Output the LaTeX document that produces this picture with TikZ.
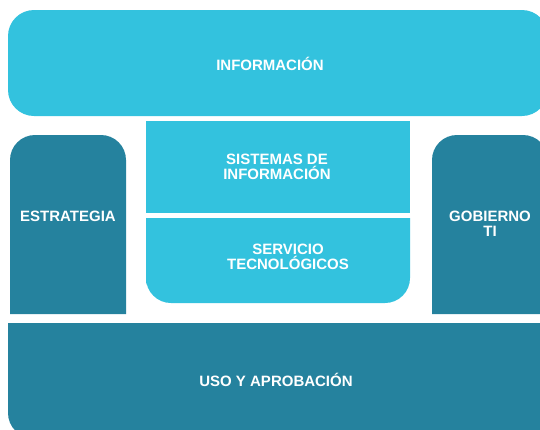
\documentclass[tikz,border=0pt]{standalone}
\usepackage{fontspec}
\setmainfont{Liberation Sans}
\usepackage{tikz}
\usepackage{xcolor}

\definecolor{celeste}{HTML}{33C2DE}
\definecolor{petroleo}{HTML}{25829E}

\tikzset{
    etiqueta/.style={text=white, align=center, anchor=base, inner sep=0pt,
        font=\bfseries\fontsize{15}{15}\selectfont}
}

\begin{document}
\begin{tikzpicture}[x=1pt,y=-1pt]
        \clip (0,0) rectangle (540,429);
        % capa superior
        \fill [celeste, rounded corners=26] (8,10) rectangle (548,116);
        % bloque central
        \fill [celeste] (146,121) rectangle (410,213);
        \fill [celeste] (146,218) -- (410,218) -- (410,260) [rounded corners=25] -- (410,303) -- (146,303) -- (146,260) [sharp corners] -- cycle;
        % columnas laterales
        \fill [petroleo] (10,314) -- (10,200) [rounded corners=25] -- (10,135) -- (126,135) -- (126,200) [sharp corners] -- (126,314) -- cycle;
        \fill [petroleo] (432,314) -- (432,200) [rounded corners=25] -- (432,135) -- (548,135) -- (548,200) [sharp corners] -- (548,314) -- cycle;
        % base
        \fill [petroleo] (8,323) -- (548,323) -- (548,438) -- (100,438) [rounded corners=25] -- (8,438) -- (8,380) [sharp corners] -- cycle;
        \node [etiqueta] (informacion) at (270,70) {INFORMACIÓN};
        \node [etiqueta] (sistemas) at (277,179.5) {SISTEMAS DE\\INFORMACIÓN};
        \node [etiqueta] (servicio) at (288,269.5) {SERVICIO\\TECNOLÓGICOS};
        \node [etiqueta] (estrategia) at (68,221.5) {ESTRATEGIA};
        \node [etiqueta] (gobierno) at (490,236.5) {GOBIERNO\\TI};
        \node [etiqueta] (uso) at (276,386) {USO Y APROBACIÓN};
    \end{tikzpicture}
\end{document}
